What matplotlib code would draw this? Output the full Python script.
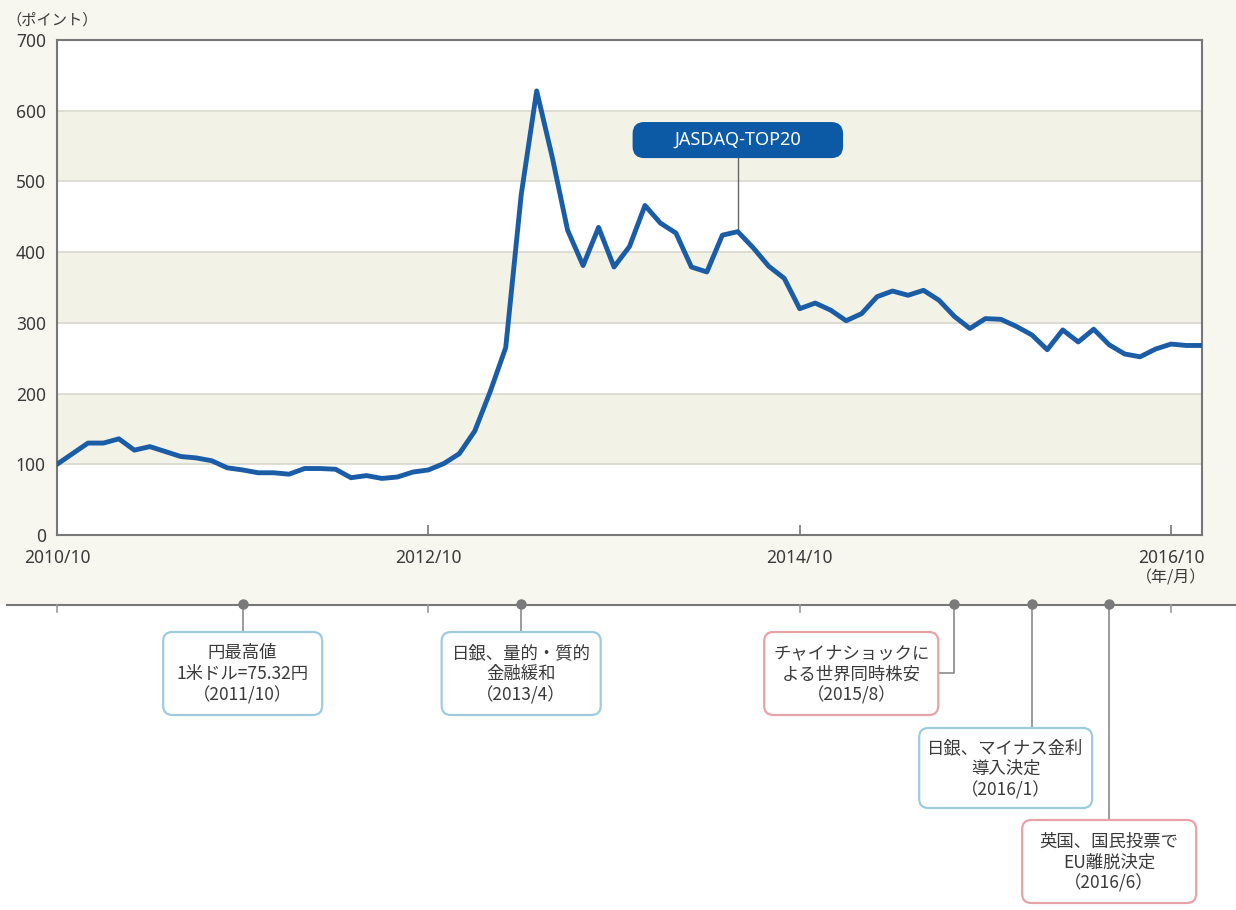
import numpy as np
import matplotlib
matplotlib.use("Agg")
import matplotlib.pyplot as plt
from matplotlib.patches import FancyBboxPatch, Rectangle
from matplotlib.transforms import blended_transform_factory

plt.rcParams['font.family'] = ['Noto Sans', 'Noto Sans CJK JP', 'DejaVu Sans']
CJK = ['Noto Sans CJK JP', 'DejaVu Sans']

# JASDAQ-TOP20, monthly from 2010/10 to 2016/12
start_year, start_month = 2010, 10
values = [100, 115, 130, 130, 136, 120, 125, 118, 111, 109,
          105, 95, 92, 88, 88, 86, 94, 94, 93, 81,
          84, 80, 82, 89, 92, 101, 115, 147, 203, 265,
          481, 628, 535, 431, 381, 435, 379, 408, 466, 441,
          427, 379, 372, 424, 429, 406, 380, 363, 320, 328,
          318, 303, 313, 337, 345, 339, 346, 332, 309, 292,
          306, 305, 295, 283, 262, 290, 273, 291, 269, 256,
          252, 263, 270, 268, 268]
tick_labels = ["2010/10", "2012/10", "2014/10", "2016/10"]

event_dates = ["2011/10", "2013/4", "2015/8", "2016/1", "2016/6"]
event_texts = ["円最高値\n1米ドル=75.32円\n（2011/10）",
               "日銀、量的・質的\n金融緩和\n（2013/4）",
               "チャイナショックに\nよる世界同時株安\n（2015/8）",
               "日銀、マイナス金利\n導入決定\n（2016/1）",
               "英国、国民投票で\nEU離脱決定\n（2016/6）"]
event_kind = ["policy", "policy", "shock", "policy", "shock"]


def month_offset(label):
    y, m = label.split("/")
    return (int(y) - start_year) * 12 + int(m) - start_month


x = np.arange(len(values))
TEXT = '#3a3a3a'
GRID = '#777777'

fig = plt.figure(figsize=(12.36, 9.10), dpi=100)
fig.patch.set_facecolor('white')
fig.add_artist(Rectangle((0, 1 - 605 / 910), 1, 605 / 910, transform=fig.transFigure,
                         facecolor='#f7f6ef', edgecolor='none', zorder=-10))

ax = fig.add_axes([57 / 1236, 1 - 535 / 910, 1145 / 1236, 495 / 910])
ax.set_facecolor('white')
ax.set_xlim(0, len(values) - 1)
ax.set_ylim(0, 700)
for lo in range(100, 700, 200):
    ax.axhspan(lo, lo + 100, color='#f3f2e6', zorder=0, lw=0)
for v in range(100, 700, 100):
    ax.axhline(v, color='#d8d8d0', lw=1.2, zorder=1)

ax.plot(x, values, color='#1a5ca6', lw=3.5, solid_joinstyle='round', zorder=3)

for s in ax.spines.values():
    s.set_color(GRID)
    s.set_linewidth(1.5)
ax.set_xticks([month_offset(t) for t in tick_labels], tick_labels)
ax.set_yticks(range(0, 701, 100))
ax.tick_params(axis='x', direction='in', length=7, width=1.2, color=GRID, pad=10,
               labelsize=12.5, labelcolor=TEXT)
ax.tick_params(axis='y', length=0, pad=8, labelsize=12.5, labelcolor=TEXT)

fig.text(6 / 1236, 1 - 20 / 910, "（ポイント）", ha='left', va='center', fontsize=11,
         color=TEXT, family=CJK)
tr = blended_transform_factory(ax.transData, fig.transFigure)
ax.text(72, 1 - 578 / 910, "（年/月）", transform=tr, ha='center', va='center',
        fontsize=11.5, color=TEXT, family=CJK)

# series label
lab_x = 44
ax.plot([lab_x, lab_x], [533, values[lab_x]], color='#666666', lw=1, zorder=2)
ax.add_patch(FancyBboxPatch((37.2, 533), 13.6, 51, boxstyle='round,pad=0,rounding_size=0.75',
                            mutation_aspect=21.9, facecolor='#0c5aa6', edgecolor='none', zorder=4))
ax.text(44.0, 558.5, "JASDAQ-TOP20", color='white', ha='center', va='center',
        fontsize=13, zorder=5)

# timeline of events
ax2 = fig.add_axes([57 / 1236, 0, 1145 / 1236, 314 / 910])
ax2.set_xlim(0, len(values) - 1)
ax2.set_ylim(910, 596)
ax2.axis('off')
ax2.plot([-3.2, 77], [605, 605], color=GRID, lw=1.5, clip_on=False)
for t in tick_labels:
    m = month_offset(t)
    ax2.plot([m, m], [605, 612], color='#999999', lw=1.2, clip_on=False)

ev_x = [month_offset(d) for d in event_dates]
ax2.plot(ev_x, [604] * len(ev_x), 'o', ms=6.5, color='#7a7a7a', zorder=4, clip_on=False)

# box layout: center x (months), width (months), top (px), height (px)
box_cx = [12, 30, 51.33, 61.31, 68.0]
box_w = [10.28, 10.28, 11.25, 11.18, 11.25]
box_top = [632, 632, 632, 728, 820]
box_h = [83, 83, 83, 80, 83]
edge = {"policy": '#9fcbe0', "shock": '#e8a3a8'}

for i, m in enumerate(ev_x):
    if i == 2:
        right = box_cx[i] + box_w[i] / 2
        ax2.plot([m, m, right], [605, 673, 673], color='#8a8a8a', lw=1.2, zorder=1)
    else:
        ax2.plot([m, m], [605, box_top[i]], color='#8a8a8a', lw=1.2, zorder=1)
    ax2.add_patch(FancyBboxPatch((box_cx[i] - box_w[i] / 2, box_top[i]), box_w[i], box_h[i],
                                 boxstyle='round,pad=0,rounding_size=0.6', mutation_aspect=15.47,
                                 facecolor='white', edgecolor=edge[event_kind[i]], lw=1.6,
                                 zorder=2))
    ax2.text(box_cx[i], box_top[i] + box_h[i] / 2 + 1, event_texts[i], ha='center', va='center',
             fontsize=12.5, color=TEXT, linespacing=1.2, zorder=3, family=CJK)

fig.savefig('out.png', dpi=100)
